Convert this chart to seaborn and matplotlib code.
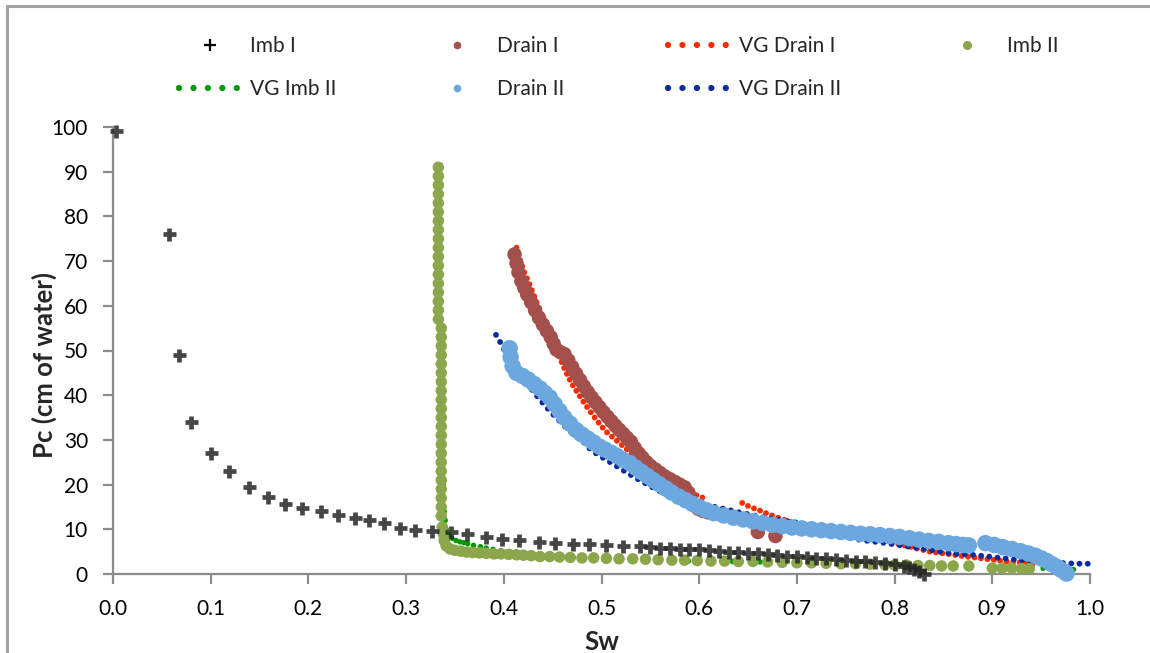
import matplotlib
matplotlib.use("Agg")
import matplotlib.pyplot as plt
import seaborn as sns
import pandas as pd
from matplotlib.lines import Line2D

# ---------------- data ----------------
imb1_sw = [0.003, 0.057, 0.068, 0.080, 0.100, 0.119, 0.139, 0.159, 0.176, 0.193,
           0.213, 0.230, 0.248, 0.262, 0.277, 0.294, 0.309, 0.327, 0.346, 0.362,
           0.382, 0.398, 0.416, 0.436, 0.452, 0.471, 0.487, 0.505, 0.522, 0.539,
           0.550, 0.560, 0.570, 0.580, 0.590, 0.600, 0.610, 0.620, 0.630, 0.640,
           0.650, 0.660, 0.670, 0.680, 0.690, 0.700, 0.710, 0.720, 0.730, 0.740,
           0.750, 0.760, 0.770, 0.780, 0.790, 0.800, 0.810, 0.815, 0.820, 0.825, 0.830]
imb1_pc = [99.0, 76.0, 49.0, 34.0, 27.0, 23.0, 19.5, 17.2, 15.6, 14.7,
           14.2, 13.1, 12.6, 12.0, 11.5, 10.2, 9.8, 9.7, 9.3, 8.9,
           8.3, 7.8, 7.6, 7.2, 6.9, 6.8, 6.6, 6.5, 6.3, 6.2,
           6.0, 5.9, 5.8, 5.7, 5.6, 5.5, 5.3, 5.2, 5.0, 4.9,
           4.7, 4.6, 4.4, 4.3, 4.1, 4.0, 3.8, 3.6, 3.5, 3.3,
           3.2, 3.0, 2.8, 2.6, 2.4, 2.2, 1.8, 1.5, 1.2, 0.6, 0.0]

drain1_sw = [0.411, 0.413, 0.415, 0.418, 0.421, 0.424, 0.428, 0.432, 0.436, 0.440,
             0.444, 0.448, 0.451, 0.454, 0.458, 0.462, 0.466, 0.470, 0.474, 0.478,
             0.482, 0.486, 0.490, 0.494, 0.498, 0.502, 0.506, 0.510, 0.514, 0.518,
             0.522, 0.526, 0.530, 0.534, 0.538, 0.542, 0.546, 0.550, 0.555, 0.560,
             0.565, 0.570, 0.575, 0.580, 0.585, 0.589, 0.591, 0.594, 0.599, 0.604,
             0.609, 0.660, 0.678]
drain1_pc = [71.5, 69.5, 67.5, 65.5, 64.0, 62.5, 60.8, 59.0, 57.3, 55.8,
             54.4, 53.0, 51.5, 50.2, 49.6, 49.2, 47.8, 46.3, 44.8, 43.4,
             42.0, 40.7, 39.5, 38.4, 37.3, 36.2, 35.2, 34.2, 33.2, 32.3,
             31.4, 30.5, 29.6, 28.2, 27.0, 26.0, 25.0, 24.2, 23.4, 22.6,
             21.8, 21.2, 20.6, 20.0, 19.4, 18.2, 16.8, 15.5, 14.6, 14.1,
             13.8, 9.4, 8.5]

vgd1_sw = [0.413, 0.417, 0.421, 0.426, 0.430, 0.435, 0.440, 0.445, 0.450, 0.455,
           0.459, 0.464, 0.469, 0.475, 0.481, 0.487, 0.493, 0.499, 0.505, 0.512,
           0.520, 0.528, 0.538, 0.548, 0.558, 0.568, 0.578, 0.590, 0.600, 0.609,
           0.644, 0.652, 0.662, 0.672, 0.682, 0.692, 0.700, 0.706, 0.720, 0.750,
           0.788, 0.836, 0.857, 0.877, 0.900, 0.918, 0.928, 0.946]
vgd1_pc = [73.0, 70.0, 67.5, 65.0, 62.8, 60.0, 57.5, 55.0, 52.5, 50.0,
           47.5, 45.0, 42.8, 40.7, 38.7, 36.8, 35.0, 33.3, 31.8, 30.5,
           29.0, 27.5, 25.5, 23.6, 22.0, 20.5, 19.3, 18.2, 17.4, 16.6,
           15.9, 15.0, 14.2, 13.3, 12.5, 11.8, 11.3, 11.0, 10.2, 9.0,
           7.6, 5.0, 4.4, 3.8, 3.2, 2.7, 2.6, 2.0]
vgd1_seg = [1] * 30 + [2] * 18

imb2_sw = [0.333, 0.333, 0.333, 0.333, 0.333, 0.333, 0.333, 0.333, 0.333, 0.333,
           0.333, 0.333, 0.333, 0.333, 0.333, 0.333, 0.333, 0.333,
           0.336, 0.336, 0.336, 0.336, 0.336, 0.336, 0.336, 0.336, 0.336, 0.336,
           0.336, 0.336, 0.336, 0.336, 0.336, 0.336, 0.336, 0.336, 0.336, 0.336,
           0.336, 0.336,
           0.337, 0.338, 0.339, 0.341, 0.345, 0.350, 0.356, 0.362, 0.368, 0.375,
           0.382, 0.390, 0.397, 0.405, 0.413, 0.420, 0.428, 0.437, 0.447, 0.457,
           0.468, 0.480, 0.492, 0.505, 0.518, 0.532, 0.545, 0.558, 0.572, 0.585,
           0.598, 0.612, 0.626, 0.640, 0.655, 0.670, 0.685, 0.700, 0.715, 0.730,
           0.745, 0.760, 0.775, 0.790, 0.800, 0.812, 0.824, 0.836, 0.848, 0.860,
           0.876, 0.900, 0.910, 0.920, 0.930, 0.938]
imb2_pc = [91, 89, 87, 85, 83, 81, 79, 77, 75, 73,
           71, 69, 67, 65, 63, 61, 59, 57,
           55, 53, 51, 49, 47, 45, 43, 41, 39, 37,
           35, 33, 31, 29, 27, 25, 23, 21, 19, 17,
           15, 13,
           10.5, 9.0, 7.5, 6.3, 5.6, 5.3, 5.1, 4.9, 4.8, 4.7,
           4.6, 4.5, 4.5, 4.4, 4.3, 4.2, 4.1, 3.9, 3.9, 3.8,
           3.7, 3.6, 3.6, 3.5, 3.4, 3.4, 3.3, 3.2, 3.1, 3.1,
           3.0, 2.9, 2.9, 2.8, 2.8, 2.7, 2.6, 2.5, 2.5, 2.4,
           2.3, 2.3, 2.2, 2.1, 2.0, 2.0, 1.9, 1.9, 1.8, 1.8,
           1.8, 1.3, 1.3, 1.3, 1.2, 1.2]

vgi2_sw = [0.333, 0.334, 0.335, 0.336, 0.338, 0.339, 0.340, 0.341, 0.344, 0.347,
           0.351, 0.355, 0.359, 0.363, 0.369, 0.376, 0.382, 0.389, 0.397, 0.407,
           0.418, 0.430, 0.445, 0.458, 0.471, 0.490, 0.505, 0.520, 0.560, 0.589,
           0.634, 0.662, 0.713, 0.760, 0.810, 0.859, 0.877, 0.910, 0.930, 0.952, 0.983]
vgi2_pc = [90, 70, 50, 30, 20, 14, 12, 10, 8.8, 8.0,
           7.5, 7.2, 7.0, 6.8, 6.4, 6.1, 5.8, 5.5, 5.2, 4.9,
           4.6, 4.4, 4.1, 3.9, 3.7, 3.55, 3.45, 3.35, 3.2, 2.9,
           2.8, 2.7, 2.5, 2.3, 2.0, 1.8, 1.8, 1.5, 1.4, 1.3, 1.0]

drain2_sw = [0.406, 0.407, 0.409, 0.413, 0.419, 0.425, 0.431, 0.437, 0.442, 0.447,
             0.452, 0.457, 0.462, 0.468, 0.474, 0.480, 0.486, 0.492, 0.498, 0.504,
             0.510, 0.516, 0.522, 0.529, 0.535, 0.541, 0.547, 0.553, 0.559, 0.566,
             0.572, 0.579, 0.586, 0.593, 0.600, 0.607, 0.615, 0.625, 0.635, 0.645,
             0.655, 0.665, 0.675, 0.685, 0.695, 0.705, 0.715, 0.725, 0.735, 0.745,
             0.755, 0.765, 0.775, 0.785, 0.795, 0.805, 0.815, 0.825, 0.835, 0.845,
             0.855, 0.863, 0.870, 0.876, 0.893, 0.902, 0.911, 0.920, 0.929, 0.937,
             0.944, 0.950, 0.956, 0.961, 0.966, 0.970, 0.974, 0.976]
drain2_pc = [50.5, 48.5, 46.5, 45.0, 44.3, 43.5, 42.5, 41.5, 40.5, 39.5,
             38.0, 36.5, 35.0, 33.6, 32.2, 31.2, 30.3, 29.4, 28.5, 27.8,
             27.1, 26.4, 25.6, 24.8, 23.8, 22.8, 21.9, 21.0, 20.1, 19.1,
             18.2, 17.3, 16.5, 15.7, 15.0, 14.3, 13.6, 13.1, 12.6, 12.2,
             11.8, 11.4, 11.0, 10.7, 10.4, 10.2, 10.0, 9.8, 9.6, 9.4,
             9.2, 9.0, 8.9, 8.7, 8.5, 8.3, 8.0, 7.7, 7.4, 7.2,
             6.9, 6.7, 6.5, 6.4, 6.9, 6.5, 6.0, 5.6, 5.1, 4.6,
             4.1, 3.5, 2.9, 2.2, 1.6, 1.0, 0.5, 0.1]

vgd2_sw = [0.392, 0.396, 0.400, 0.404, 0.410, 0.418, 0.426, 0.434, 0.442, 0.450,
           0.458, 0.466, 0.474, 0.482, 0.490, 0.500, 0.512, 0.525, 0.539, 0.553,
           0.567, 0.580, 0.595, 0.610, 0.625, 0.645, 0.665, 0.685, 0.703, 0.725,
           0.745, 0.765, 0.788, 0.812, 0.839, 0.857, 0.880, 0.908, 0.930, 0.949,
           0.965, 0.976, 0.988, 1.000]
vgd2_pc = [53.5, 52.0, 50.3, 48.8, 46.8, 44.3, 42.0, 39.8, 37.7, 35.8,
           34.0, 32.3, 30.8, 29.4, 27.6, 26.2, 24.6, 22.8, 21.0, 19.3,
           17.7, 16.8, 16.0, 15.3, 14.6, 13.6, 12.7, 12.0, 11.4, 10.1,
           8.8, 7.6, 7.0, 6.2, 5.3, 4.6, 4.3, 3.6, 3.1, 2.8,
           2.5, 2.4, 2.3, 2.3]

x_ticks = [0.0, 0.1, 0.2, 0.3, 0.4, 0.5, 0.6, 0.7, 0.8, 0.9, 1.0]
y_ticks = [0, 10, 20, 30, 40, 50, 60, 70, 80, 90, 100]

labels = ["Imb I", "Drain I", "VG Drain I", "Imb II", "VG Imb II", "Drain II", "VG Drain II"]
colors = {"Imb I": "#262626", "Drain I": "#A3504C", "VG Drain I": "#FF2A00",
          "Imb II": "#8CA64C", "VG Imb II": "#009A00", "Drain II": "#6CA8DF",
          "VG Drain II": "#0A2B9F"}

# ---------------- figure ----------------
sns.set_theme(style="ticks")
plt.rcParams["font.family"] = ["Lato", "DejaVu Sans"]

W, H = 1150, 653
fig = plt.figure(figsize=(W / 100, H / 100), dpi=100)
ax = fig.add_axes([113 / W, 1 - 574 / H, 977 / W, 447 / H])

def d2s(d):  # marker diameter in px -> scatter size in pt^2
    return (0.72 * d) ** 2

# VG curves (drawn beneath the measured data)
df_vgd1 = pd.DataFrame({"Sw": vgd1_sw, "Pc": vgd1_pc, "seg": vgd1_seg})
sns.lineplot(data=df_vgd1, x="Sw", y="Pc", units="seg", estimator=None, sort=False,
             ax=ax, color=colors["VG Drain I"], linewidth=4.2,
             linestyle=(0, (0.01, 1.1)), dash_capstyle="round", zorder=2, clip_on=False)
sns.lineplot(x=vgd2_sw, y=vgd2_pc, estimator=None, sort=False, ax=ax,
             color=colors["VG Drain II"], linewidth=4.2,
             linestyle=(0, (0.01, 1.4)), dash_capstyle="round", zorder=2, clip_on=False)
sns.scatterplot(x=vgi2_sw, y=vgi2_pc, ax=ax, color=colors["VG Imb II"], s=d2s(5.5),
                edgecolor="none", zorder=2, clip_on=False)

# measured data
sns.scatterplot(x=drain1_sw, y=drain1_pc, ax=ax, color=colors["Drain I"], s=d2s(14.5),
                edgecolor="none", zorder=3, clip_on=False)
sns.scatterplot(x=imb2_sw, y=imb2_pc, ax=ax, color=colors["Imb II"], s=d2s(11.5),
                edgecolor="none", zorder=3, clip_on=False)
sns.scatterplot(x=drain2_sw, y=drain2_pc, ax=ax, color=colors["Drain II"], s=d2s(16.5),
                edgecolor="none", zorder=4, clip_on=False)
sns.scatterplot(x=imb1_sw, y=imb1_pc, ax=ax, color=colors["Imb I"], marker="+",
                s=d2s(13), linewidth=3.4, alpha=0.85, zorder=5, clip_on=False)

# axes styling
ax.set_xlim(0, 1)
ax.set_ylim(0, 100)
ax.set_xticks(x_ticks)
ax.set_xticklabels([f"{v:.1f}" for v in x_ticks])
ax.set_yticks(y_ticks)
ax.set_yticklabels([str(v) for v in y_ticks])
sns.despine(ax=ax)
for side in ("left", "bottom"):
    ax.spines[side].set_color("#8C8C8C")
    ax.spines[side].set_linewidth(1.6)
ax.tick_params(axis="both", direction="out", length=7, width=1.6, color="#8C8C8C",
               labelsize=15, labelcolor="black")
ax.tick_params(axis="x", pad=11)
ax.tick_params(axis="y", pad=11)
ax.set_xlabel("Sw", fontsize=18.5, fontweight="bold")
ax.set_ylabel("Pc (cm of water)", fontsize=18.5, fontweight="bold")
ax.xaxis.set_label_coords(0.5, -0.126)
ax.yaxis.set_label_coords(-0.057, 0.468)
ax.grid(False)

# legend: one entry per box, laid out on a 4x2 grid like the original
def dotted(c):
    return Line2D([], [], color=c, linewidth=4.5, linestyle=(0, (0.01, 2.3)),
                  dash_capstyle="round")

handles = {
    "Imb I": Line2D([], [], color="black", marker="+", linestyle="none",
                    markersize=8, markeredgewidth=1.6),
    "Drain I": Line2D([], [], color=colors["Drain I"], marker="o", linestyle="none",
                      markersize=5.5, markeredgewidth=0),
    "VG Drain I": dotted(colors["VG Drain I"]),
    "Imb II": Line2D([], [], color=colors["Imb II"], marker="o", linestyle="none",
                     markersize=6.5, markeredgewidth=0),
    "VG Imb II": dotted(colors["VG Imb II"]),
    "Drain II": Line2D([], [], color=colors["Drain II"], marker="o", linestyle="none",
                       markersize=5.5, markeredgewidth=0),
    "VG Drain II": dotted(colors["VG Drain II"]),
}
col_x = [179, 426, 668, 936]
row_y = [46, 89]
slots = {"Imb I": (0, 0), "Drain I": (1, 0), "VG Drain I": (2, 0), "Imb II": (3, 0),
         "VG Imb II": (0, 1), "Drain II": (1, 1), "VG Drain II": (2, 1)}
for lab in labels:
    c, r = slots[lab]
    fig.legend(handles=[handles[lab]], labels=[lab], loc="center left",
               bbox_to_anchor=(col_x[c] / W, 1 - row_y[r] / H), frameon=False,
               borderpad=0, borderaxespad=0, handlelength=2.95, handletextpad=0.45,
               fontsize=15)

# chart border (gray frame at top/left as in the original)
fig.add_artist(Line2D([7 / W, 1], [1 - 6 / H, 1 - 6 / H], transform=fig.transFigure,
                      color="#A3A3A3", linewidth=2.2))
fig.add_artist(Line2D([7 / W, 7 / W], [0, 1 - 6 / H], transform=fig.transFigure,
                      color="#A3A3A3", linewidth=2.2))

fig.savefig("out.png", dpi=100)
